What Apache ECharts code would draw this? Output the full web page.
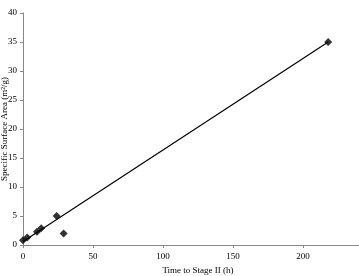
<!DOCTYPE html>
<html>
<head>
<meta charset="utf-8">
<script src="https://cdn.jsdelivr.net/npm/echarts@6/dist/echarts.min.js"></script>
<style>
  html, body { margin: 0; padding: 0; background: #fff; }
</style>
</head>
<body>
<div id="main" style="width: 359px;height:276px;"></div>
<script>
// measured points: time to stage II (h) vs specific surface area
var timeData = [0, 3, 10, 13, 24, 29, 218];
var areaData = [0.8, 1.3, 2.3, 2.9, 5.0, 2.0, 35.0];
// fitted trend line end points
var fitX = [0, 218];
var fitY = [0.6, 35.0];

var points = [];
for (var i = 0; i < timeData.length; i++) {
  points.push([timeData[i], areaData[i]]);
}
var fitLine = [];
for (var j = 0; j < fitX.length; j++) {
  fitLine.push([fitX[j], fitY[j]]);
}

var myChart = echarts.init(document.getElementById("main"));
var font = "Liberation Serif";
var option = {
  animation: false,
  textStyle: { fontFamily: font },
  // right edge is negative: the axis runs past the picture edge
  grid: { left: 23, right: -14, top: 13, bottom: 31, containLabel: false, outerBoundsMode: 'none' },
  xAxis: {
    type: 'value',
    min: 0,
    max: 250,
    interval: 50,
    name: 'Time to Stage II (h)',
    nameLocation: 'middle',
    nameGap: 21,
    nameMoveOverlap: false,
    nameTextStyle: { fontFamily: font, fontSize: 9, color: '#000' },
    axisLine: { lineStyle: { color: '#888', width: 1 } },
    axisTick: { show: true, length: 3, lineStyle: { color: '#888' } },
    axisLabel: { fontFamily: font, fontSize: 9, color: '#000', margin: 7 },
    splitLine: { show: false }
  },
  yAxis: {
    type: 'value',
    min: 0,
    max: 40,
    interval: 5,
    name: 'Specific Surface Area (m\u00b2/g)',
    nameLocation: 'middle',
    nameGap: 14,
    nameMoveOverlap: false,
    nameTextStyle: { fontFamily: font, fontSize: 9, color: '#000' },
    axisLine: { show: true, lineStyle: { color: '#888', width: 1 } },
    axisTick: { show: true, length: 3, lineStyle: { color: '#888' } },
    axisLabel: { fontFamily: font, fontSize: 9, color: '#000', margin: 6 },
    splitLine: { show: false }
  },
  series: [
    {
      type: 'line',
      data: fitLine,
      symbol: 'none',
      lineStyle: { color: '#000', width: 1.2 },
      z: 1
    },
    {
      type: 'scatter',
      data: points,
      symbol: 'diamond',
      symbolSize: 8,
      itemStyle: { color: '#000' },
      z: 2
    }
  ]
};
myChart.setOption(option);
</script>
</body>
</html>
